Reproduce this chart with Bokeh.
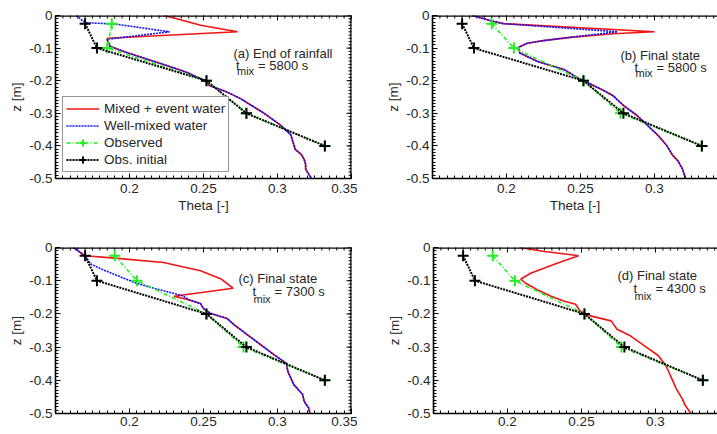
import math

from bokeh.embed import file_html
from bokeh.layouts import column, row
from bokeh.models import (CustomJSTickFormatter, FixedTicker, Label, Legend,
                          LegendItem, Range1d, Span)
from bokeh.plotting import figure
from bokeh.resources import INLINE

# ---------------------------------------------------------------- data
# observation depths [m] and soil moisture theta [-]
obs_depth = [-0.025, -0.1, -0.2, -0.3, -0.4]
obs_initial = [0.170, 0.178, 0.252, 0.279, 0.332]
obs_end_rain = [0.188, 0.185, 0.252, 0.279, 0.332]
obs_final = [0.190, 0.205, 0.252, 0.277, 0.332]

# (a) end of rainfall, t_mix = 5800 s
a_event_top_z = [0.0, -0.01, -0.03, -0.05, -0.07]
a_event_top_theta = [0.223, 0.232, 0.248, 0.273, 0.185]
a_well_top_z = [0.0, -0.022, -0.026, -0.05, -0.073]
a_well_top_theta = [0.164, 0.170, 0.190, 0.227, 0.185]
a_lower_z = [-0.075, -0.095, -0.115, -0.15, -0.175, -0.2, -0.215, -0.235, -0.255,
             -0.3, -0.336, -0.366, -0.396, -0.411, -0.426, -0.441, -0.456, -0.471,
             -0.486, -0.5]
a_lower_theta = [0.185, 0.187, 0.199, 0.223, 0.239, 0.251, 0.254, 0.266, 0.275,
                 0.291, 0.302, 0.309, 0.311, 0.312, 0.316, 0.318, 0.319, 0.319,
                 0.321, 0.323]

# (b) final state, t_mix = 5800 s
b_top_z = [0.0, -0.017, -0.025]
b_top_theta = [0.177, 0.190, 0.198]
b_event_peak_z = [-0.05, -0.056]
b_event_peak_theta = [0.300, 0.272]
b_well_peak_z = [-0.05]
b_well_peak_theta = [0.275]
b_lower_z = [-0.067, -0.077, -0.085, -0.098, -0.115, -0.141, -0.166, -0.191, -0.211,
             -0.231, -0.246, -0.276, -0.306, -0.336, -0.366, -0.397, -0.427, -0.447,
             -0.472, -0.5]
b_lower_theta = [0.243, 0.225, 0.214, 0.208, 0.209, 0.221, 0.239, 0.248, 0.257,
                 0.266, 0.272, 0.279, 0.288, 0.295, 0.302, 0.308, 0.312, 0.316,
                 0.319, 0.321]

# (c) final state, t_mix = 7300 s
c_top_z = [0.0, -0.025]
c_top_theta = [0.162, 0.170]
c_event_mid_z = [-0.032, -0.045, -0.07, -0.095, -0.1225, -0.147]
c_event_mid_theta = [0.190, 0.223, 0.248, 0.262, 0.270, 0.230]
c_well_mid_z = [-0.05, -0.065, -0.085, -0.105, -0.12, -0.134, -0.144]
c_well_mid_theta = [0.174, 0.181, 0.192, 0.203, 0.214, 0.226, 0.235]
c_lower_z = [-0.159, -0.169, -0.184, -0.199, -0.214, -0.234, -0.264, -0.294, -0.324,
             -0.349, -0.373, -0.413, -0.443, -0.463, -0.483, -0.5]
c_lower_theta = [0.241, 0.248, 0.250, 0.255, 0.266, 0.271, 0.280, 0.289, 0.298,
                 0.306, 0.307, 0.311, 0.317, 0.318, 0.321, 0.322]

# (d) final state, t_mix = 4300 s
d_event_z = [0.0, -0.012, -0.022, -0.025, -0.047, -0.062, -0.077, -0.095, -0.107,
             -0.127, -0.146, -0.161, -0.171, -0.191, -0.206, -0.221, -0.246, -0.266,
             -0.301, -0.326, -0.356, -0.375, -0.395, -0.425, -0.455, -0.475, -0.5]
d_event_theta = [0.208, 0.225, 0.243, 0.248, 0.234, 0.225, 0.216, 0.209, 0.212,
                 0.220, 0.229, 0.238, 0.246, 0.249, 0.256, 0.270, 0.274, 0.283,
                 0.294, 0.302, 0.307, 0.309, 0.311, 0.314, 0.318, 0.320, 0.324]

x_major = [0.2, 0.25, 0.3, 0.35]
y_major = [0.0, -0.1, -0.2, -0.3, -0.4, -0.5]

# ---------------------------------------------------------------- style
FONT = "Liberation Sans"
TXT = "#262626"
RED = "#f01414"
BLUE = "#1010ff"
GREEN = "#22ee22"
BLACK = "#000000"
X0, X1 = 0.15, 0.35
PX_PER_X = 1480.0   # frame pixels per unit theta
PX_PER_Y = 332.0    # frame pixels per metre

fmt = CustomJSTickFormatter(code="return String(Math.round(tick*1000)/1000);")
x_minor = [round(0.15 + 0.005 * i, 3) for i in range(41)]
y_minor = [round(-0.01 * i, 2) for i in range(51)]


def style_axis(ax, ticks, minor):
    ax.ticker = FixedTicker(ticks=ticks, minor_ticks=minor)
    ax.formatter = fmt
    ax.axis_line_color = BLACK
    ax.axis_line_width = 1.6
    ax.major_tick_in = 5
    ax.major_tick_out = 0
    ax.minor_tick_in = 3
    ax.minor_tick_out = 0
    ax.major_tick_line_color = BLACK
    ax.minor_tick_line_color = BLACK
    ax.major_label_text_font = FONT
    ax.major_label_text_color = TXT
    ax.major_label_text_font_size = "13.5px"
    ax.major_label_standoff = 3
    ax.axis_label_text_font = FONT
    ax.axis_label_text_font_style = "normal"
    ax.axis_label_text_font_size = "13.5px"
    ax.axis_label_text_color = TXT
    ax.axis_label_standoff = 2


def edge_ticks(p, x_end, right_edge):
    """Inward ticks along the top edge (and right edge) of the frame."""
    xs_maj = [t for t in x_major if t <= x_end]
    xs_min = [t for t in x_minor if t <= x_end]
    p.scatter(xs_maj, [0.0] * len(xs_maj), marker="dash", angle=math.pi / 2,
              size=10, line_color=BLACK, line_width=1)
    p.scatter(xs_min, [0.0] * len(xs_min), marker="dash", angle=math.pi / 2,
              size=6, line_color=BLACK, line_width=1)
    p.add_layout(Span(location=0.0, dimension="width", line_color=BLACK,
                      line_width=2.5))
    if right_edge:
        p.scatter([X1] * len(y_major), y_major, marker="dash", size=10,
                  line_color=BLACK, line_width=1)
        p.scatter([X1] * len(y_minor), y_minor, marker="dash", size=6,
                  line_color=BLACK, line_width=1)
        p.add_layout(Span(location=X1, dimension="height", line_color=BLACK,
                          line_width=2.5))


def panel(width, height, left, top, bottom, frame_w, right_edge, xlabel):
    x_end = X0 + frame_w / PX_PER_X
    p = figure(width=width, height=height, output_backend="svg",
               toolbar_location=None, x_range=Range1d(X0, x_end),
               y_range=Range1d(-0.5, 0.0),
               min_border_left=left, min_border_right=width - left - frame_w,
               min_border_top=top, min_border_bottom=bottom,
               x_axis_label=xlabel, y_axis_label="z [m]")
    p.grid.visible = False
    p.outline_line_color = None
    p.background_fill_color = "white"
    p.border_fill_color = "white"
    style_axis(p.xaxis[0], x_major, x_minor)
    style_axis(p.yaxis[0], y_major, y_minor)
    p.xaxis[0].major_label_standoff = 5
    edge_ticks(p, x_end, right_edge)
    return p


def observations(p, observed):
    g_line = p.line(observed, obs_depth, line_color=GREEN, line_width=1.6,
                    line_dash="4 2 1 2")
    g_pts = p.scatter(observed, obs_depth, marker="cross", size=11,
                      line_color=GREEN, line_width=2)
    k_line = p.line(obs_initial, obs_depth, line_color=BLACK, line_width=2,
                    line_dash="2 1")
    k_pts = p.scatter(obs_initial, obs_depth, marker="cross", size=11,
                      line_color=BLACK, line_width=2)
    return [g_line, g_pts], [k_line, k_pts]


def annotate(p, title, t_text, tx, sx, base1, base2, base3):
    def lab(text, rx, ry, size):
        p.add_layout(Label(x=X0 + rx / PX_PER_X, y=-ry / PX_PER_Y, text=text,
                           text_font=FONT, text_font_size=size, text_color=TXT,
                           text_align="left", text_baseline="alphabetic"))
    lab(title, tx, base1, "13px")
    lab("t", sx, base2, "13px")
    lab("mix", sx + 1, base3, "11px")
    lab(t_text, sx + 22, base2, "13px")


# ---------------------------------------------------------------- (a)
pa = panel(357, 217, 55, 12, 39, 296, True, "Theta [-]")
ra = pa.line(a_event_top_theta + a_lower_theta, a_event_top_z + a_lower_z,
             line_color=RED, line_width=1.6)
ba = pa.line(a_well_top_theta + a_lower_theta, a_well_top_z + a_lower_z,
             line_color=BLUE, line_width=1.6, line_dash="2 1")
ga, ka = observations(pa, obs_end_rain)
annotate(pa, "(a) End of rainfall", "= 5800 s", 178, 180.5, 39, 51, 56.5)
legend = Legend(items=[LegendItem(label="Mixed + event water", renderers=[ra]),
                       LegendItem(label="Well-mixed water", renderers=[ba]),
                       LegendItem(label="Observed", renderers=ga),
                       LegendItem(label="Obs. initial", renderers=ka)],
                location=(7, 6), padding=3, spacing=0, margin=0,
                label_height=17, glyph_height=17, glyph_width=33,
                label_standoff=5, label_text_font=FONT,
                label_text_font_size="13.5px", label_text_color=TXT,
                border_line_color="#303030", border_line_width=1,
                background_fill_color="white", background_fill_alpha=1)
pa.add_layout(legend)

# ---------------------------------------------------------------- (b)
pb = panel(360, 217, 75, 15, 36, 285, False, "Theta [-]")
pb.line(b_top_theta + b_event_peak_theta + b_lower_theta,
        b_top_z + b_event_peak_z + b_lower_z, line_color=RED, line_width=1.6)
pb.line(b_top_theta + b_well_peak_theta + b_lower_theta,
        b_top_z + b_well_peak_z + b_lower_z, line_color=BLUE, line_width=1.6,
        line_dash="2 1")
observations(pb, obs_final)
annotate(pb, "(b) Final state", "= 5800 s", 188, 202, 41, 53, 59)

# ---------------------------------------------------------------- (c)
pc = panel(357, 217, 55, 30, 20, 296, True, None)
pc.line(c_top_theta + c_event_mid_theta + c_lower_theta,
        c_top_z + c_event_mid_z + c_lower_z, line_color=RED, line_width=1.6)
pc.line(c_top_theta + c_well_mid_theta + c_lower_theta,
        c_top_z + c_well_mid_z + c_lower_z, line_color=BLUE, line_width=1.6,
        line_dash="2 1")
observations(pc, obs_final)
annotate(pc, "(c) Final state", "= 7300 s", 183, 197, 31, 44, 51)

# ---------------------------------------------------------------- (d)
pd_ = panel(360, 217, 76, 29, 21, 284, False, None)
pd_.line(d_event_theta, d_event_z, line_color=RED, line_width=1.6)
observations(pd_, obs_final)
annotate(pd_, "(d) Final state", "= 4300 s", 184, 200, 28, 41, 48)

for fig in (pc, pd_):
    fig.xaxis[0].major_label_standoff = 3

layout = column(row(pa, pb), row(pc, pd_))
open("out.html", "w").write(file_html(layout, INLINE))
